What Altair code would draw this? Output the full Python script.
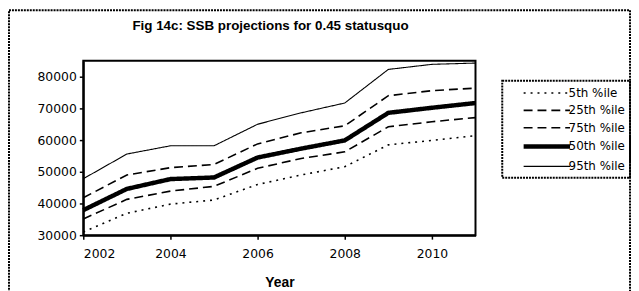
import altair as alt
import pandas as pd

years = [2002, 2003, 2004, 2005, 2006, 2007, 2008, 2009, 2010, 2011]
p5 = [31000, 36900, 39800, 41100, 46000, 49000, 51600, 58500, 59900, 61400]
p25 = [35100, 41300, 43900, 45400, 51100, 54200, 56300, 64200, 65800, 67100]
p75 = [41800, 49000, 51300, 52300, 58800, 62300, 64500, 74000, 75600, 76400]
p50 = [37900, 44600, 47700, 48200, 54500, 57300, 59900, 68600, 70200, 71700]
p95 = [47800, 55600, 58200, 58200, 65000, 68600, 71700, 82300, 83900, 84300]

series_names = ["5th %ile", "25th %ile", "75th %ile", "50th %ile", "95th %ile"]
series_values = [p5, p25, p75, p50, p95]
title_text = "Fig 14c: SSB projections for 0.45 statusquo"

rows = []
for name, vals in zip(series_names, series_values):
    for yr, v in zip(years, vals):
        rows.append({"Year": yr, "SSB": v, "series": name})
df = pd.DataFrame(rows)

LBL = "DejaVu Sans"
BOLD = "Liberation Sans"

lines = alt.Chart(df).mark_line(color="black").encode(
    x=alt.X("Year:Q", scale=alt.Scale(domain=[2002, 2011], nice=False, zero=False),
            axis=alt.Axis(values=[2002, 2004, 2006, 2008, 2010], format="d", title="Year",
                          titleFontWeight="bold", titleFont=BOLD, titleFontSize=14,
                          titlePadding=15, labelPadding=9)),
    y=alt.Y("SSB:Q", scale=alt.Scale(domain=[30000, 85000], nice=False, zero=False),
            axis=alt.Axis(values=[30000, 40000, 50000, 60000, 70000, 80000], format="d",
                          title=None, labelPadding=3)),
    strokeDash=alt.StrokeDash("series:N",
        scale=alt.Scale(domain=series_names,
                        range=[[2, 5], [9, 5], [9, 5], [1, 0], [1, 0]]),
        legend=alt.Legend(title=None)),
    strokeWidth=alt.StrokeWidth("series:N",
        scale=alt.Scale(type="ordinal", domain=series_names, range=[1.6, 1.6, 1.6, 4.5, 1.1]),
        legend=alt.Legend(title=None)),
    order=alt.Order("Year:Q"),
)

border = alt.Chart(pd.DataFrame({"t": [title_text]})).mark_rect(
    fill=None, stroke="black", strokeDash=[2, 1], strokeWidth=2
).encode(
    x=alt.value(-75), x2=alt.value(552), y=alt.value(-51), y2=alt.value(240)
)

title = alt.Chart(pd.DataFrame({"t": [title_text]})).mark_text(
    font=BOLD, fontSize=13.5, fontWeight="bold", color="black", align="center", baseline="alphabetic"
).encode(
    text="t:N", x=alt.value(189), y=alt.value(-31)
)

chart = alt.layer(border, title, lines).properties(
    width=396, height=176,
    autosize=alt.AutoSizeParams(type="none"),
    padding={"left": 76, "top": 52, "right": 157, "bottom": 55},
).configure_view(
    stroke="black", strokeWidth=2
).configure_axis(
    grid=False, domainColor="black", domainWidth=2, tickColor="black", tickSize=4,
    tickWidth=1.5, labelFont=LBL, labelFontSize=12.5, labelColor="black", titleColor="black"
).configure_legend(
    orient="none", legendX=423, legendY=20, strokeColor="black", strokeDash=[2, 1],
    strokeWidth=2, padding=5, symbolType="M-3.6,0H3.6", symbolSize=169, symbolStrokeColor="black",
    labelFont=LBL, labelFontSize=12, labelColor="black", labelOffset=13, rowPadding=3.5,
    symbolOffset=31,
)

chart.save("out.html", embed_options={"renderer": "svg", "actions": False})
